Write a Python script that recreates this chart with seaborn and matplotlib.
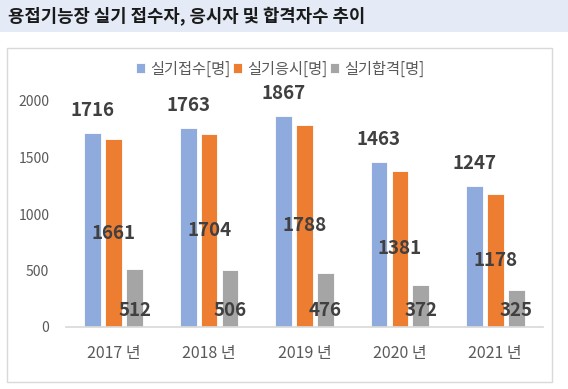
import pandas as pd
import matplotlib
matplotlib.use("Agg")
import matplotlib.pyplot as plt
import seaborn as sns
from matplotlib.patches import Rectangle

# 데이터
years = ["2017 년", "2018 년", "2019 년", "2020 년", "2021 년"]
series = ["실기접수[명]", "실기응시[명]", "실기합격[명]"]
applied = [1716, 1763, 1867, 1463, 1247]
tested = [1661, 1704, 1788, 1381, 1178]
passed = [512, 506, 476, 372, 325]
colors = ["#8FAADC", "#ED7D31", "#A5A5A5"]

df = pd.DataFrame({
    "year": years * 3,
    "series": [series[0]] * 5 + [series[1]] * 5 + [series[2]] * 5,
    "value": applied + tested + passed,
})

sns.set_theme(style="white")
plt.rcParams['font.family'] = ['Noto Sans CJK KR', 'DejaVu Sans']

fig = plt.figure(figsize=(5.68, 3.89), dpi=100)

# 제목 배경 + 차트 테두리
fig.patches.append(Rectangle((0, 1 - 32 / 389), 1, 32 / 389, transform=fig.transFigure,
                             facecolor="#E4EAF6", edgecolor="none", zorder=0))
fig.patches.append(Rectangle((7 / 568, 1 - 382 / 389), 545 / 568, 334 / 389,
                             transform=fig.transFigure, facecolor="none",
                             edgecolor="#D9D9D9", linewidth=1, zorder=0))
fig.text(8 / 568, 1 - 16 / 389, "용접기능장 실기 접수자, 응시자 및 합격자수 추이",
         fontsize=12.8, fontweight="bold", color="#1A1A1A", va="center", ha="left")

ax = fig.add_axes([66 / 568, 1 - 327 / 389, 477 / 568, 226 / 389])
sns.barplot(data=df, x="year", y="value", hue="series", palette=colors, saturation=1,
            width=0.66, gap=0.2, ax=ax, edgecolor="white", linewidth=0.6)

ax.set_ylim(0, 2000)
ax.set_xlim(-0.5, 4.5)
ax.set_yticks([0, 500, 1000, 1500, 2000])
ax.set_xlabel("")
ax.set_ylabel("")
ax.tick_params(axis="y", labelsize=10, labelcolor="#595959", length=0, pad=12)
ax.tick_params(axis="x", labelsize=11.5, labelcolor="#595959", length=0, pad=13)
for s in ["top", "right", "left"]:
    ax.spines[s].set_visible(False)
ax.spines["bottom"].set_color("#D9D9D9")
ax.grid(False)

# 데이터 레이블
off = 0.22
lbl = dict(fontsize=13.5, fontweight="bold", color="#404040", ha="center", va="center")
for i in range(len(years)):
    ax.annotate(str(applied[i]), (i - off, applied[i]), xytext=(0, 16),
                textcoords="offset points", annotation_clip=False, **lbl)
    ax.text(i, tested[i] / 2, str(tested[i]), **lbl)
    ax.annotate(str(passed[i]), (i + off, 0), xytext=(0, 12),
                textcoords="offset points", **lbl)

handles, labels = ax.get_legend_handles_labels()
ax.legend(handles, labels, loc="center", bbox_to_anchor=(280 / 568, 1 - 69 / 389),
          bbox_transform=fig.transFigure, ncol=3, frameon=False, fontsize=11,
          handlelength=0.6, handleheight=0.6, handletextpad=0.3, columnspacing=0.2,
          labelcolor="#595959")

plt.savefig("out.png", dpi=100)
